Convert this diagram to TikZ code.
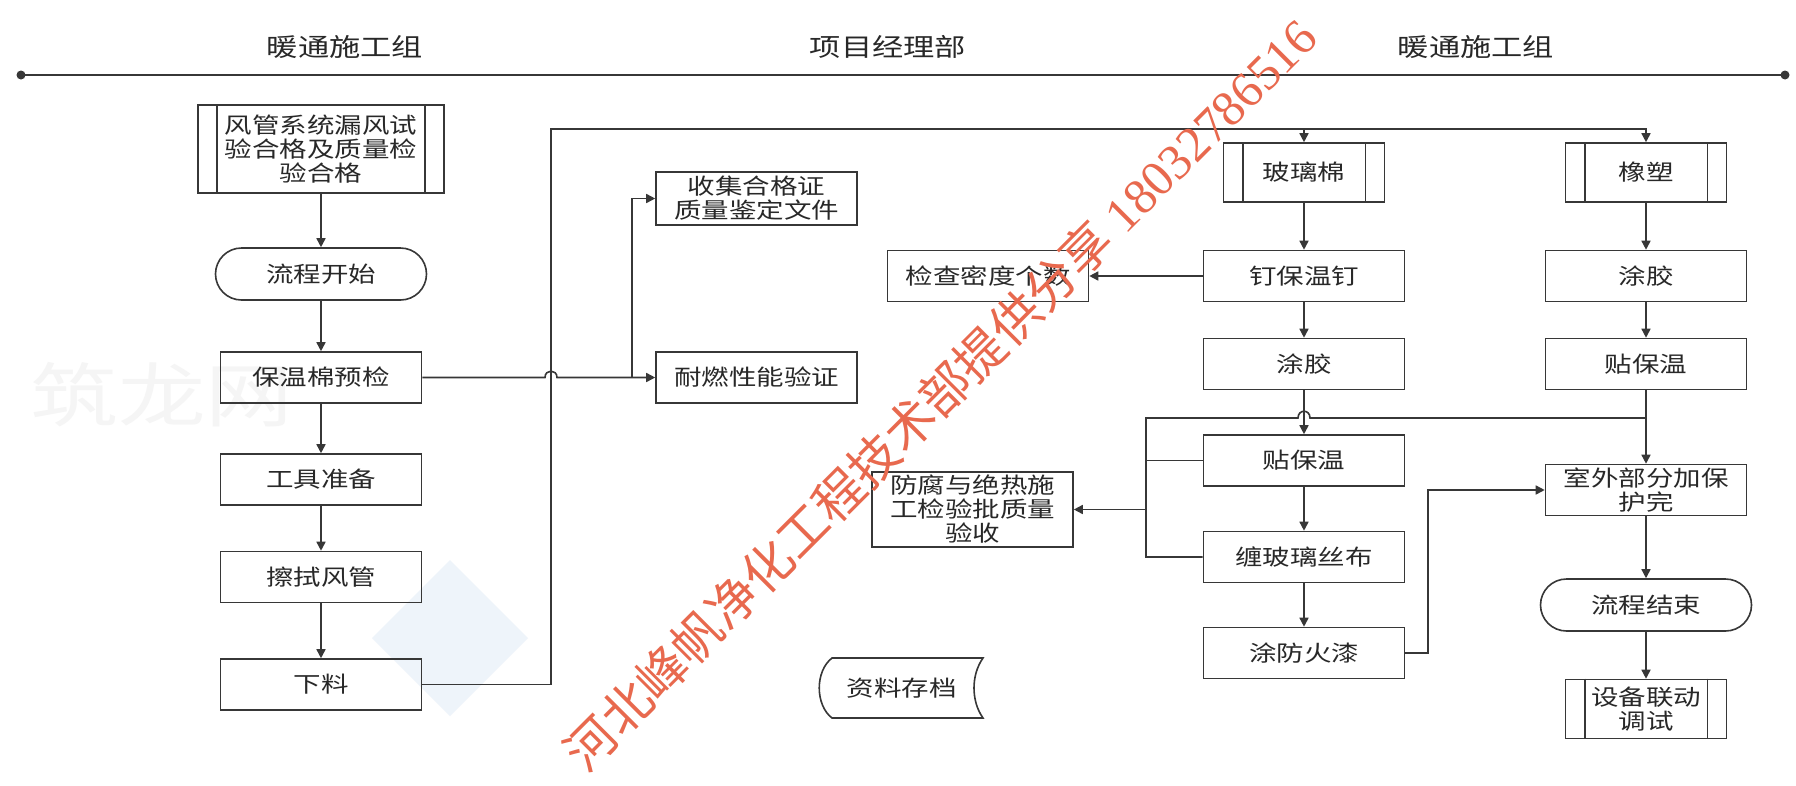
\documentclass[tikz,border=0pt]{standalone}
\usepackage{fontspec}
\setmainfont{Noto Sans CJK SC}[FakeStretch=1.25]
\newfontfamily\wmfont{Noto Sans CJK SC}
\newfontfamily\wmdig{Liberation Serif}
\usetikzlibrary{arrows.meta,shapes.misc}
\definecolor{lc}{RGB}{55,55,55}
\definecolor{tc}{RGB}{40,40,40}
\definecolor{wmred}{RGB}{232,105,78}
\definecolor{ghost}{RGB}{245,245,245}
\definecolor{ghostblue}{RGB}{238,244,250}
\newcommand\boxfont{\fontsize{22}{24}\selectfont}
\newcommand\hdrfont{\fontsize{25}{28}\selectfont}
\begin{document}
\begin{tikzpicture}[x=1pt,y=-1pt,
  ln/.style={draw=lc,line width=1.6pt},
  arr/.style={ln,-{Triangle[length=9pt,width=9pt]}},
  box/.style={ln,rectangle,minimum width=201pt,minimum height=51pt,inner sep=0pt,align=center,font=\boxfont,text=tc},
  proc/.style={box,minimum width=161pt,minimum height=59pt},
  term/.style={box,rounded rectangle,minimum width=211pt,minimum height=52pt},
  hdr/.style={font=\hdrfont,text=tc,inner sep=0pt}]
\useasboundingbox (0,0) rectangle (1796,785);
\fill[white] (0,0) rectangle (1796,785);

% faint background marks
\node[text=ghost,inner sep=0pt] (gh) at (162,395) {\fontsize{70}{70}\selectfont 筑龙网};
\fill[ghostblue] (450,560) -- (528,638) -- (450,716) -- (372,638) -- cycle;

% headers and top line
\node[hdr] (h1) at (345,47) {暖通施工组};
\node[hdr] (h2) at (888,47) {项目经理部};
\node[hdr] (h3) at (1476,47) {暖通施工组};
\coordinate (L) at (21,75);
\coordinate (R) at (1785,75);
\draw[ln] (L) -- (R);
\fill[lc] (L) circle (4.5pt);
\fill[lc] (R) circle (4.5pt);

% left column
\node[proc,minimum width=246pt,minimum height=88pt] (fg) at (321,149) {风管系统漏风试\\验合格及质量检\\验合格};
\node[term] (start) at (321,274) {流程开始};
\node[box] (yj) at (321,377.5) {保温棉预检};
\node[box] (gj) at (321,479.5) {工具准备};
\node[box] (cs) at (321,577) {擦拭风管};
\node[box] (xl) at (321,684.5) {下料};

% middle (project dept)
\node[box,minimum height=53pt] (sj) at (756.5,198.5) {收集合格证\\质量鉴定文件};
\node[box] (nr) at (756.5,377.5) {耐燃性能验证};
\node[box] (jc) at (988,276) {检查密度个数};
\node[box,minimum height=75pt] (ff) at (972.5,509.5) {防腐与绝热施\\工检验批质量\\验收};
\node[inner sep=0pt,font=\boxfont,text=tc] (zl) at (901.5,688) {资料存档};

% glass wool column
\node[proc] (blm) at (1304,172.5) {玻璃棉};
\node[box] (dbw) at (1304,276) {钉保温钉};
\node[box] (tj1) at (1304,364) {涂胶};
\node[box] (tbw1) at (1304,460.5) {贴保温};
\node[box] (cbl) at (1304,557) {缠玻璃丝布};
\node[box] (tfh) at (1304,653) {涂防火漆};

% rubber-plastic column
\node[proc] (xs) at (1646,172.5) {橡塑};
\node[box] (tj2) at (1646,276) {涂胶};
\node[box] (tbw2) at (1646,364) {贴保温};
\node[box] (swb) at (1646,490) {室外部分加保\\护完};
\node[term] (end) at (1646,605) {流程结束};
\node[proc] (sb) at (1646,709) {设备联动\\调试};

% process bars
\foreach \n/\d in {fg/20,blm/20,xs/20,sb/20}{
  \draw[ln] ([xshift=\d pt]\n.north west) -- ([xshift=\d pt]\n.south west);
  \draw[ln] ([xshift=-\d pt]\n.north east) -- ([xshift=-\d pt]\n.south east);
}

% data storage shape
\draw[ln] (832,658) -- (983,658) .. controls (971,675) and (971,701) .. (983,718)
  -- (832,718) .. controls (815,705) and (815,671) .. (832,658) -- cycle;

% left chain
\draw[arr] (fg) -- (start);
\draw[arr] (start) -- (yj);
\draw[arr] (yj) -- (gj);
\draw[arr] (gj) -- (cs);
\draw[arr] (cs) -- (xl);

% from 下料 up and over
\coordinate (v1) at (551,129);
\draw[arr] (xl.east) -- (xl.east -| v1) -- (v1) -- (v1 -| xs) -- (xs.north);
\draw[arr] (v1 -| blm) -- (blm.north);

% from 保温棉预检 to the two checks
\coordinate (j1) at (545,377.5);
\coordinate (j2) at (557,377.5);
\coordinate (b1) at (632,377.5);
\draw[arr] (yj.east) -- (j1) .. controls (545,369) and (557,369) .. (j2) -- (nr.west);
\draw[arr] (b1) -- (b1 |- sj.west) -- (sj.west);

% glass wool chain
\draw[arr] (blm) -- (dbw);
\draw[arr] (dbw) -- (tj1);
\draw[arr] (tj1) -- (tbw1);
\draw[arr] (tbw1) -- (cbl);
\draw[arr] (cbl) -- (tfh);
\draw[arr] (dbw.west) -- (jc.east);

% rubber chain
\draw[arr] (xs) -- (tj2);
\draw[arr] (tj2) -- (tbw2);
\draw[arr] (tbw2) -- (swb);
\draw[arr] (swb) -- (end);
\draw[arr] (end) -- (sb);

% collector to 防腐
\coordinate (c0) at (1646,418);
\coordinate (c1) at (1146,418);
\coordinate (k1) at (1310,418);
\coordinate (k2) at (1298,418);
\draw[ln] (c0) -- (k1) .. controls (1310,409) and (1298,409) .. (k2) -- (c1) -- (c1 |- cbl.west) -- (cbl.west);
\draw[ln] (tbw1.west) -- (tbw1.west -| c1);
\draw[arr] (ff.east -| c1) -- (ff.east);

% 涂防火漆 to 室外
\coordinate (d1) at (1428,653);
\draw[arr] (tfh.east) -- (d1) -- (d1 |- swb.west) -- (swb.west);

% watermark
\node[rotate=45,text=wmred,inner sep=0pt] (wm) at (940,394)
  {\fontsize{50}{50}\selectfont\wmfont 河北峰帆净化工程技术部提供分享\hspace{12pt}\wmdig 18032786516};
\end{tikzpicture}
\end{document}
